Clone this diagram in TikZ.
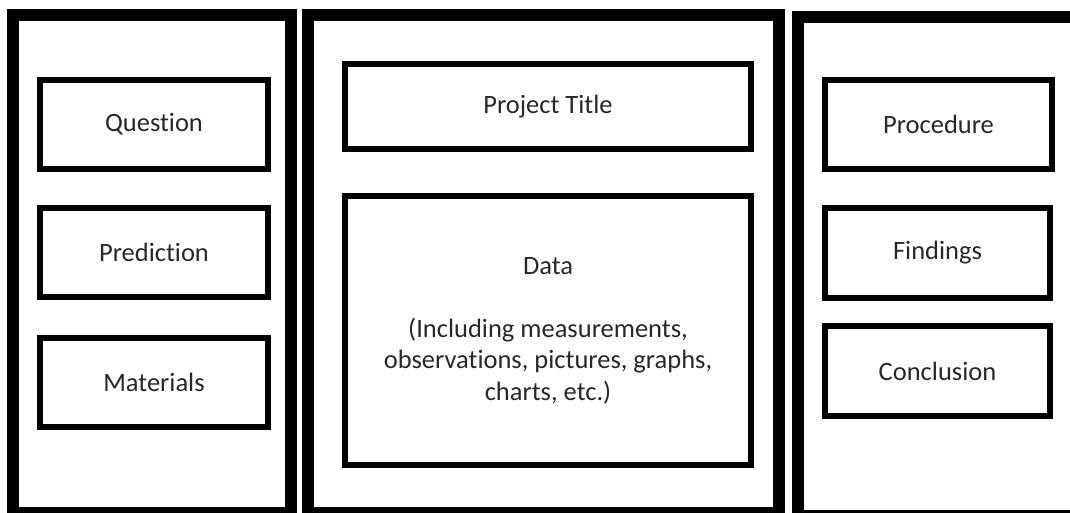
\documentclass[tikz,border=0pt]{standalone}
\usepackage{fontspec}
\setmainfont[Ligatures={NoCommon}]{Carlito}
\definecolor{txt}{RGB}{40,40,40}
\begin{document}
\begin{tikzpicture}[x=1pt,y=-1pt,
  panel/.style={draw=black,line width=12pt,rectangle,inner sep=0pt,fill=none},
  item/.style={draw=black,line width=6pt,rectangle,inner sep=0pt,text=txt,
    font=\fontsize{26.5}{31.5}\selectfont,align=center},
]
\useasboundingbox (0,0) rectangle (1070,513);
\clip (0,0) rectangle (1070,513);
\fill[white] (0,0) rectangle (1070,513);
% panels
\node[panel,minimum width=278pt,minimum height=498pt] (leftp) at (152,264) {};
\node[panel,minimum width=471pt,minimum height=498pt] (midp) at (543.5,264) {};
\node[panel,minimum width=290pt,minimum height=499pt] (rightp) at (942.5,266.5) {};
% left column
\node[item,minimum width=228pt,minimum height=89pt] (question) at (154,124.5) {Question};
\node[item,minimum width=228pt,minimum height=89pt] (prediction) at (154,252.5) {Prediction};
\node[item,minimum width=228pt,minimum height=89pt] (materials) at (154,382.5) {Materials};
% middle column
\node[item,minimum width=406pt,minimum height=85pt] (title) at (548,106.5) {Project Title};
\node[item,minimum width=406pt,minimum height=269pt] (data) at (548,330.5)
  {Data\\[31.5pt](Including measurements,\\observations, pictures, graphs,\\charts, etc.)};
% right column
\node[item,minimum width=227pt,minimum height=89pt] (procedure) at (938.5,124.5) {Procedure};
\node[item,minimum width=225pt,minimum height=90pt] (findings) at (937.5,253) {Findings};
\node[item,minimum width=225pt,minimum height=90pt] (conclusion) at (937.5,371) {Conclusion};
\end{tikzpicture}
\end{document}
